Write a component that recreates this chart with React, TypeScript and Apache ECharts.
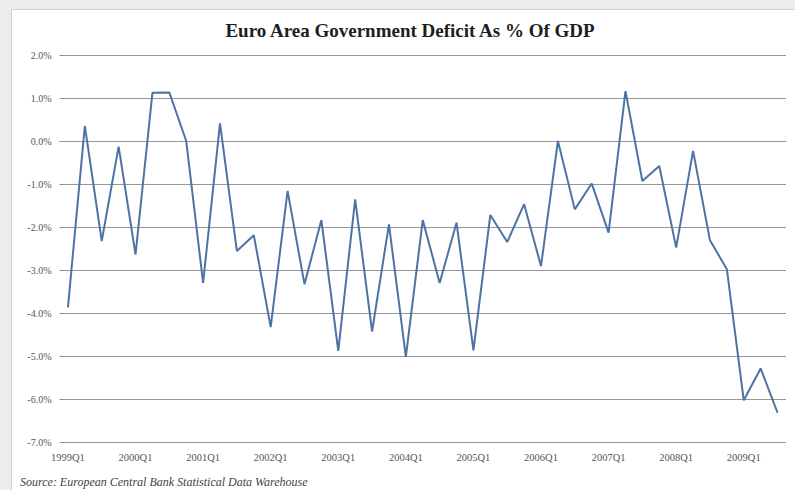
import React, { useEffect, useRef } from "react";
import * as echarts from "echarts";

const quarters: string[] = [
  "1999Q1","1999Q2","1999Q3","1999Q4",
  "2000Q1","2000Q2","2000Q3","2000Q4",
  "2001Q1","2001Q2","2001Q3","2001Q4",
  "2002Q1","2002Q2","2002Q3","2002Q4",
  "2003Q1","2003Q2","2003Q3","2003Q4",
  "2004Q1","2004Q2","2004Q3","2004Q4",
  "2005Q1","2005Q2","2005Q3","2005Q4",
  "2006Q1","2006Q2","2006Q3","2006Q4",
  "2007Q1","2007Q2","2007Q3","2007Q4",
  "2008Q1","2008Q2","2008Q3","2008Q4",
  "2009Q1","2009Q2","2009Q3",
];

const deficitPct: number[] = [
  -3.87, 0.35, -2.33, -0.13,
  -2.64, 1.12, 1.13, 0.0,
  -3.3, 0.41, -2.56, -2.19,
  -4.33, -1.16, -3.33, -1.84,
  -4.88, -1.36, -4.43, -1.94,
  -5.02, -1.84, -3.3, -1.9,
  -4.87, -1.72, -2.35, -1.47,
  -2.91, 0.0, -1.59, -0.99,
  -2.13, 1.16, -0.93, -0.58,
  -2.48, -0.23, -2.31, -2.98,
  -6.03, -5.29, -6.32,
];

const yMin = -7;
const yMax = 2;
const yStep = 1;

const titleText = "Euro Area Government Deficit As % Of GDP";
const sourceText = "Source: European Central Bank Statistical Data Warehouse";

export default function App() {
  const ref = useRef<HTMLDivElement>(null);
  useEffect(() => {
    if (!ref.current) return;
    const chart = echarts.init(ref.current, undefined, { renderer: "svg" });
    chart.setOption({
      animation: false,
      backgroundColor: "#ececec",
      graphic: [
        {
          type: "rect",
          z: -10,
          shape: { x: 11.5, y: 9.5, width: 800, height: 500 },
          style: { fill: "#ffffff", stroke: "#d2d2d2", lineWidth: 1 },
        },
        {
          type: "text",
          x: 410,
          y: 30,
          style: {
            text: titleText,
            align: "center",
            verticalAlign: "middle",
            fontFamily: "Liberation Serif, serif",
            fontWeight: "bold",
            fontSize: 19,
            fill: "#1e1e1e",
          },
        },
        {
          type: "text",
          x: 20,
          y: 482,
          style: {
            text: sourceText,
            verticalAlign: "middle",
            fontFamily: "Liberation Serif, serif",
            fontStyle: "italic",
            fontSize: 12,
            fill: "#444",
          },
        },
      ],
      grid: { left: 59.5, right: 9, top: 55, bottom: 48 },
      xAxis: {
        type: "category",
        data: quarters,
        boundaryGap: true,
        axisTick: { show: false },
        axisLine: { show: true, lineStyle: { color: "#969696", width: 1 } },
        axisLabel: {
          interval: 3,
          margin: 10,
          fontFamily: "Liberation Serif, serif",
          fontSize: 10.5,
          color: "#555",
        },
      },
      yAxis: {
        type: "value",
        min: yMin,
        max: yMax,
        interval: yStep,
        axisLine: { show: false },
        axisTick: { show: false },
        splitLine: { lineStyle: { color: "#969696", width: 1 } },
        axisLabel: {
          margin: 8,
          fontFamily: "Liberation Serif, serif",
          fontSize: 10,
          color: "#555",
          formatter: (v: number) => `${v.toFixed(1)}%`,
        },
      },
      series: [
        {
          type: "line",
          data: deficitPct,
          symbol: "none",
          lineStyle: { color: "#4d73a5", width: 2 },
        },
      ],
    });
    return () => chart.dispose();
  }, []);
  return (
    <div
      ref={ref}
      style={{ position: "absolute", left: 0, top: 0, width: 795, height: 490 }}
    />
  );
}
